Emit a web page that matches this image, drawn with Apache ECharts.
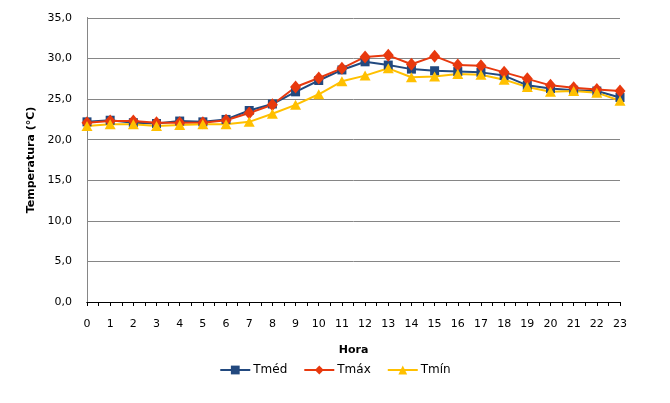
<!DOCTYPE html>
<html>
<head>
<meta charset="utf-8">
<script src="https://cdn.jsdelivr.net/npm/echarts@6/dist/echarts.min.js"></script>
<style>
    html, body { margin: 0; padding: 0; background: #fff; }
    #main { width: 670px; height: 403px; }
</style>
</head>
<body>
<div id="main"></div>
<script>
    // dados: hora do dia e temperaturas (°C)
    var horas = [0, 1, 2, 3, 4, 5, 6, 7, 8, 9, 10, 11, 12, 13, 14, 15, 16, 17, 18, 19, 20, 21, 22, 23];
    var tMed = [22.2, 22.4, 22.1, 22.0, 22.3, 22.2, 22.5, 23.6, 24.4, 25.9, 27.3, 28.6,
        29.6, 29.2, 28.7, 28.5, 28.4, 28.3, 27.9, 26.7, 26.3, 26.1, 26.0, 25.2];
    var tMax = [22.1, 22.3, 22.3, 22.1, 22.1, 22.1, 22.4, 23.3, 24.3, 26.5, 27.6, 28.8,
        30.2, 30.4, 29.3, 30.3, 29.2, 29.1, 28.3, 27.5, 26.7, 26.4, 26.2, 26.0];
    var tMin = [21.7, 21.9, 21.9, 21.7, 21.8, 21.9, 21.9, 22.2, 23.2, 24.3, 25.6, 27.2,
        27.9, 28.8, 27.7, 27.8, 28.1, 28.0, 27.4, 26.5, 25.9, 26.0, 25.8, 24.8];

    function pares(vals) {
        var out = [];
        for (var i = 0; i < horas.length; i++) {
            out.push([horas[i], vals[i]]);
        }
        return out;
    }

    var fonte = 'DejaVu Sans, Verdana, sans-serif';
    var myChart = echarts.init(document.getElementById('main'));
    var option = {
        animation: false,
        textStyle: { fontFamily: fonte, color: '#000' },
        grid: { left: 87, right: 50, top: 18, bottom: 101 },
        legend: {
            top: 359,
            left: 'center',
            itemWidth: 30,
            itemHeight: 11,
            itemGap: 16,
            textStyle: { fontFamily: fonte, fontSize: 12, color: '#000', padding: [0, 0, 0, -2] },
            data: ['Tméd', 'Tmáx', 'Tmín']
        },
        xAxis: [
            {
                type: 'value',
                min: 0,
                max: 23,
                interval: 1,
                name: 'Hora',
                nameLocation: 'middle',
                nameGap: 43,
                nameTextStyle: { fontFamily: fonte, fontSize: 11, fontWeight: 'bold', color: '#000' },
                axisLine: { lineStyle: { color: '#000', width: 1 } },
                axisTick: { show: true, length: 4, lineStyle: { color: '#000' } },
                minorTick: { show: true, splitNumber: 2, length: 4, lineStyle: { color: '#000' } },
                axisLabel: { fontFamily: fonte, fontSize: 11, color: '#000', margin: 17 },
                splitLine: { show: false }
            },
            {
                // borda superior
                type: 'value',
                position: 'top',
                min: 0,
                max: 23,
                axisLine: { show: true, lineStyle: { color: '#000', width: 1 } },
                axisTick: { show: false },
                axisLabel: { show: false },
                splitLine: { show: false }
            }
        ],
        yAxis: [
            {
                type: 'value',
                min: 0,
                max: 35,
                interval: 5,
                name: 'Temperatura (°C)',
                nameLocation: 'middle',
                nameGap: 46,
                nameTextStyle: { fontFamily: fonte, fontSize: 11, fontWeight: 'bold', color: '#000' },
                axisLine: { show: true, lineStyle: { color: '#000', width: 1 } },
                axisTick: { show: false },
                axisLabel: {
                    fontFamily: fonte,
                    fontSize: 11,
                    color: '#000',
                    margin: 15,
                    formatter: function (v) { return v.toFixed(1).replace('.', ','); }
                },
                splitLine: { lineStyle: { color: '#868686', width: 1 } }
            },
            {
                // borda direita
                type: 'value',
                position: 'right',
                min: 0,
                max: 35,
                axisLine: { show: true, lineStyle: { color: '#868686', width: 1 } },
                axisTick: { show: false },
                axisLabel: { show: false },
                splitLine: { show: false }
            }
        ],
        series: [
            {
                name: 'Tméd',
                type: 'line',
                data: pares(tMed),
                symbol: 'rect',
                symbolSize: 9,
                lineStyle: { color: '#22497F', width: 2 },
                itemStyle: { color: '#22497F' }
            },
            {
                name: 'Tmáx',
                type: 'line',
                data: pares(tMax),
                symbol: 'diamond',
                symbolSize: [11, 13],
                lineStyle: { color: '#E8390E', width: 2 },
                itemStyle: { color: '#E8390E' }
            },
            {
                name: 'Tmín',
                type: 'line',
                data: pares(tMin),
                symbol: 'triangle',
                symbolSize: [11, 10],
                lineStyle: { color: '#FFC000', width: 2 },
                itemStyle: { color: '#FFC000' }
            }
        ]
    };
    myChart.setOption(option);
</script>
</body>
</html>
